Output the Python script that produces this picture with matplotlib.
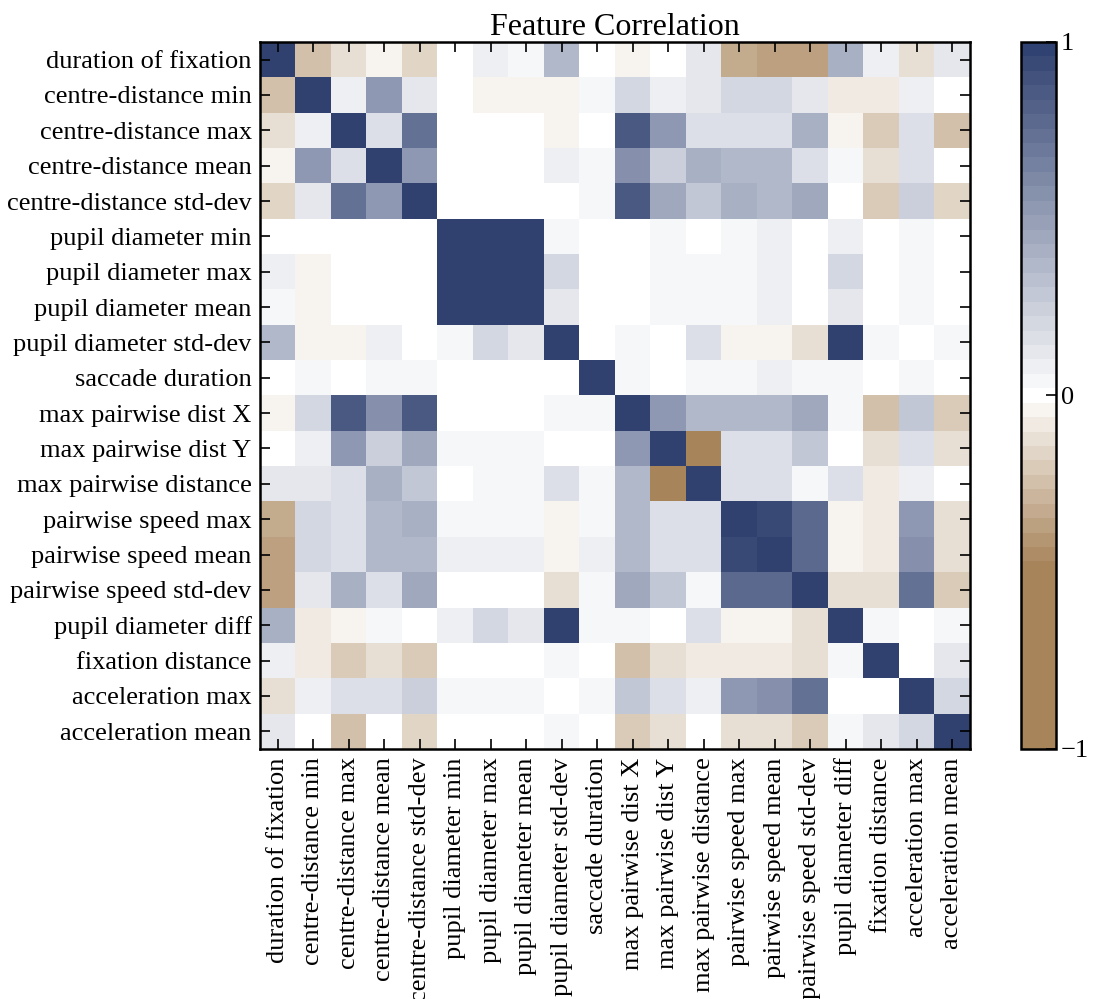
import numpy as np
import matplotlib
matplotlib.use("Agg")
import matplotlib.pyplot as plt
from matplotlib.colors import ListedColormap

# data

FEATURES = [
    "duration of fixation", "centre-distance min", "centre-distance max",
    "centre-distance mean", "centre-distance std-dev", "pupil diameter min",
    "pupil diameter max", "pupil diameter mean", "pupil diameter std-dev",
    "saccade duration", "max pairwise dist X", "max pairwise dist Y",
    "max pairwise distance", "pairwise speed max", "pairwise speed mean",
    "pairwise speed std-dev", "pupil diameter diff", "fixation distance",
    "acceleration max", "acceleration mean",
]

CORR = [
    [1.00, -0.23, -0.14, -0.06, -0.16, 0.00, 0.07, 0.04, 0.37, -0.02, -0.04, -0.01, 0.14, -0.31, -0.36, -0.37, 0.42, 0.10, -0.12, 0.14],
    [-0.23, 1.00, 0.09, 0.55, 0.11, -0.02, -0.03, -0.03, -0.05, 0.03, 0.19, 0.10, 0.12, 0.19, 0.19, 0.14, -0.08, -0.08, 0.09, -0.01],
    [-0.14, 0.09, 1.00, 0.17, 0.75, 0.00, -0.01, 0.00, -0.05, 0.01, 0.87, 0.52, 0.17, 0.18, 0.16, 0.42, -0.05, -0.20, 0.18, -0.25],
    [-0.06, 0.55, 0.17, 1.00, 0.52, 0.00, 0.00, 0.00, 0.08, 0.03, 0.56, 0.26, 0.40, 0.36, 0.38, 0.18, 0.06, -0.14, 0.17, 0.00],
    [-0.16, 0.11, 0.75, 0.52, 1.00, 0.00, -0.01, -0.01, 0.01, 0.03, 0.85, 0.44, 0.30, 0.41, 0.38, 0.43, -0.02, -0.19, 0.25, -0.16],
    [0.00, -0.02, 0.00, 0.00, 0.00, 1.00, 0.99, 0.99, 0.06, -0.02, 0.00, 0.03, 0.00, 0.06, 0.09, 0.02, 0.07, -0.02, 0.03, 0.00],
    [0.07, -0.03, -0.01, 0.00, -0.01, 0.99, 1.00, 0.99, 0.20, -0.02, 0.00, 0.03, 0.03, 0.06, 0.09, 0.00, 0.21, -0.02, 0.03, 0.00],
    [0.04, -0.03, 0.00, 0.00, -0.01, 0.99, 0.99, 1.00, 0.13, -0.02, 0.00, 0.03, 0.03, 0.06, 0.09, 0.02, 0.13, -0.02, 0.03, 0.00],
    [0.37, -0.05, -0.05, 0.08, 0.01, 0.06, 0.20, 0.13, 1.00, 0.02, 0.03, 0.00, 0.15, -0.05, -0.04, -0.12, 0.97, 0.03, 0.00, 0.03],
    [-0.02, 0.03, 0.01, 0.03, 0.03, -0.02, -0.02, -0.02, 0.02, 1.00, 0.03, 0.00, 0.03, 0.06, 0.07, 0.06, 0.03, 0.00, 0.03, 0.00],
    [-0.04, 0.19, 0.87, 0.56, 0.85, 0.00, 0.00, 0.00, 0.03, 0.03, 1.00, 0.54, 0.36, 0.35, 0.36, 0.45, 0.03, -0.23, 0.28, -0.21],
    [-0.01, 0.10, 0.52, 0.26, 0.44, 0.03, 0.03, 0.03, 0.00, 0.00, 0.54, 1.00, -0.72, 0.16, 0.16, 0.27, 0.00, -0.13, 0.16, -0.13],
    [0.14, 0.12, 0.17, 0.40, 0.30, 0.00, 0.03, 0.03, 0.15, 0.03, 0.36, -0.72, 1.00, 0.17, 0.18, 0.06, 0.16, -0.09, 0.07, -0.02],
    [-0.31, 0.19, 0.18, 0.36, 0.41, 0.06, 0.06, 0.06, -0.05, 0.06, 0.35, 0.16, 0.17, 1.00, 0.94, 0.79, -0.05, -0.08, 0.55, -0.14],
    [-0.36, 0.19, 0.16, 0.38, 0.38, 0.09, 0.09, 0.09, -0.04, 0.07, 0.36, 0.16, 0.18, 0.94, 1.00, 0.78, -0.05, -0.08, 0.56, -0.14],
    [-0.37, 0.14, 0.42, 0.18, 0.43, 0.02, 0.00, 0.02, -0.12, 0.06, 0.45, 0.27, 0.06, 0.79, 0.78, 1.00, -0.13, -0.11, 0.74, -0.22],
    [0.42, -0.08, -0.05, 0.06, -0.02, 0.07, 0.21, 0.13, 0.97, 0.03, 0.03, 0.00, 0.16, -0.05, -0.05, -0.13, 1.00, 0.03, 0.00, 0.03],
    [0.10, -0.08, -0.20, -0.14, -0.19, -0.02, -0.02, -0.02, 0.03, 0.00, -0.23, -0.13, -0.09, -0.08, -0.08, -0.11, 0.03, 1.00, 0.00, 0.13],
    [-0.12, 0.09, 0.18, 0.17, 0.25, 0.03, 0.03, 0.03, 0.00, 0.03, 0.28, 0.16, 0.07, 0.55, 0.56, 0.74, 0.00, 0.00, 1.00, 0.20],
    [0.14, -0.01, -0.25, 0.00, -0.16, 0.00, 0.00, 0.00, 0.03, 0.00, -0.21, -0.13, -0.02, -0.14, -0.14, -0.22, 0.03, 0.13, 0.20, 1.00],
]

# colours

NAVY = np.array([44, 62, 110]) / 255.0
BROWN = np.array([168, 132, 90]) / 255.0
WHITE = np.array([1.0, 1.0, 1.0])
N_LEVELS = 49  # odd, so one step sits right on zero
BROWN_SAT = 0.48  # brown side is flat below about -0.48


def make_cmap():
    centers = np.linspace(-1, 1, N_LEVELS + 1)
    centers = (centers[:-1] + centers[1:]) / 2
    cols = []
    for v in centers:
        if v >= 0:
            t = v
            cols.append(WHITE * (1 - t) + NAVY * t)
        else:
            t = min(-v / BROWN_SAT, 1.0)
            cols.append(WHITE * (1 - t) + BROWN * t)
    return ListedColormap(cols)


plt.rcParams["font.family"] = ["Liberation Serif", "DejaVu Serif"]
plt.rcParams["font.size"] = 19

fig = plt.figure(figsize=(10.96, 9.99), dpi=100)
ax = fig.add_axes([0.2372, 0.2503, 0.6478, 0.7077])
cax = fig.add_axes([0.9316, 0.2503, 0.032, 0.7077])

data = np.array(CORR)
im = ax.imshow(data, cmap=make_cmap(), vmin=-1, vmax=1,
               interpolation="nearest", aspect="auto")

n = len(FEATURES)
ax.set_xticks(np.arange(n))
ax.set_yticks(np.arange(n))
ax.set_xticklabels(FEATURES, rotation=90)
ax.set_yticklabels(FEATURES)
ax.tick_params(direction="in", length=7, width=1.2, top=True, right=True,
               labelsize=19, pad=6)
for sp in ax.spines.values():
    sp.set_linewidth(1.8)
ax.set_title("Feature Correlation", fontsize=23, pad=5)

cb = fig.colorbar(im, cax=cax, ticks=[-1, 0, 1])
cb.ax.tick_params(direction="in", length=7, width=1.2, labelsize=19)
cb.outline.set_linewidth(1.8)

fig.savefig("out.png", dpi=100)
